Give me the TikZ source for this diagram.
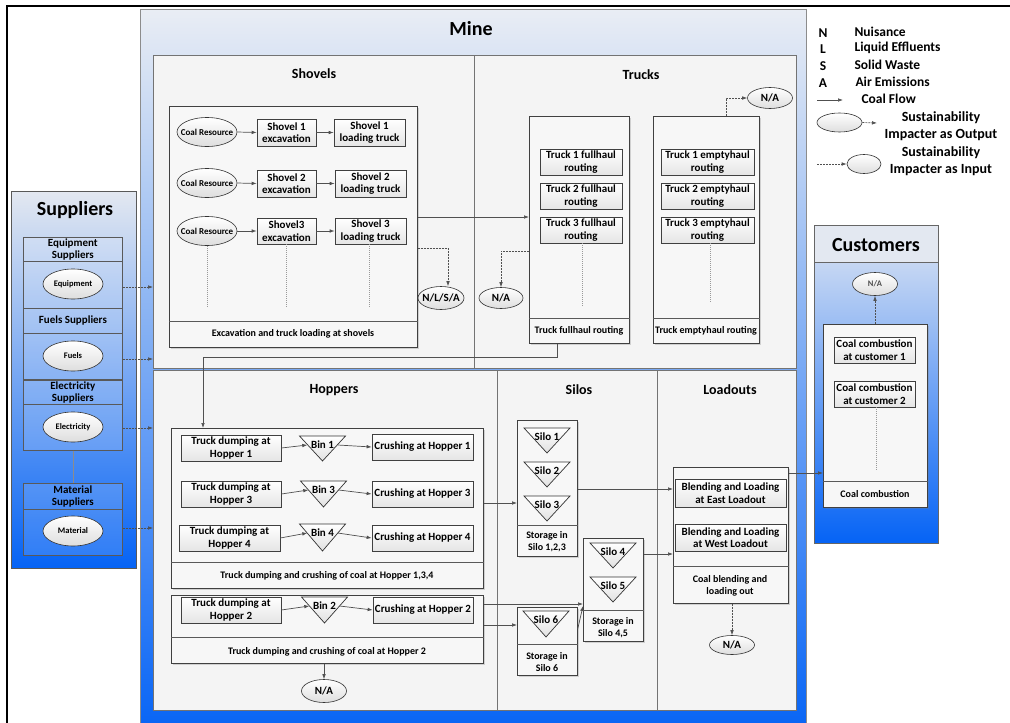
\documentclass[tikz,border=0pt]{standalone}
\usepackage{fontspec}
\setmainfont{Carlito}
\usetikzlibrary{arrows.meta,shadows,shapes.geometric}

\definecolor{linec}{HTML}{505050}
\definecolor{panelc}{HTML}{F4F4F4}
\definecolor{paleblue}{HTML}{E9EDF4}
\definecolor{deepblue}{HTML}{0563F5}
\definecolor{midblue}{HTML}{6B9DEF}
\definecolor{headc}{HTML}{E3E8F1}
\definecolor{custtop}{HTML}{C6D7F3}

% text centred in an oval without widening it
\newcommand\ovt[1]{\makebox[0pt]{#1}}
% inverted triangle (bin or silo) with a named label node near its top edge
\newcommand\vtri[5]{%
  \path[tribody] ({#2-23},#3) -- ({#2+23},#3) -- (#2,#4) -- cycle;
  \node[trilabel] (#1) at (#2,{#3+9}) {#5};}

\begin{document}
\begin{tikzpicture}[x=1pt,y=-1pt,
  every node/.style={font=\bfseries},
  f20/.style={font=\fontsize{20}{22}\selectfont\bfseries},
  f14/.style={font=\fontsize{14}{16}\selectfont\bfseries},
  f13/.style={font=\fontsize{14}{17}\selectfont\bfseries},
  f12/.style={font=\fontsize{13.5}{15}\selectfont\bfseries},
  f11/.style={font=\fontsize{11}{12.5}\selectfont\bfseries},
  f10/.style={font=\fontsize{10}{12}\selectfont\bfseries},
  f9/.style={font=\fontsize{9}{10}\selectfont\bfseries},
  f8/.style={font=\fontsize{8.5}{10}\selectfont\bfseries},
  area/.style={draw=black!55, line width=0.7pt, anchor=north west, inner sep=0pt},
  panel/.style={area, fill=panelc},
  cont/.style={area, draw=black!75, fill=white!97!black,
    drop shadow={shadow xshift=1.2pt, shadow yshift=-1.2pt, opacity=0.3}},
  box/.style={draw=black!75, line width=0.7pt, top color=white, bottom color=black!10,
    inner sep=1pt, align=center, f11,
    drop shadow={shadow xshift=1pt, shadow yshift=-1pt, opacity=0.3}},
  oval/.style={ellipse, draw=black!80, line width=0.6pt, top color=white,
    bottom color=black!13, inner sep=0pt},
  tribody/.style={draw=black!80, line width=0.7pt, top color=white, bottom color=black!12},
  trilabel/.style={f11, inner sep=0pt, minimum width=30, minimum height=14},
  divider/.style={draw=black!65, line width=0.7pt},
  subarea/.style={area, draw=black!65, fill=white, fill opacity=0.15, text opacity=1,
    align=center, f11},
  flow/.style={draw=linec, line width=0.7pt, -{Latex[length=5pt,width=3.6pt]}},
  imp/.style={flow, dash pattern=on 2pt off 1pt},
  cont line/.style={draw=black!40, line width=0.6pt, dash pattern=on 1pt off 1pt},
]
\clip (0,0) rectangle (1010,723);
\fill[white] (0,0) rectangle (1010,723);

% outer frame
\draw[line width=2pt] (7,723) -- (7,6) -- (1010,6);

% ---------------- Mine ----------------
\node[area, draw=black!45, top color=paleblue, bottom color=deepblue,
  minimum width=666, minimum height=730] (mine) at (140,9) {};
\node[f20] (minet) at (471,29) {Mine};

\node[panel, minimum width=321, minimum height=313] (shovels) at (153,55) {};
\node[panel, minimum width=322, minimum height=313] (trucks) at (474,55) {};
\node[panel, minimum width=344, minimum height=340] (hoppers) at (153,370) {};
\node[panel, minimum width=160, minimum height=340] (silos) at (497,370) {};
\node[panel, minimum width=139, minimum height=340] (loadouts) at (657,370) {};

\node[f14] (shovelst) at (314,74) {Shovels};
\node[f14] (truckst) at (641,75) {Trucks};
\node[f14] (hopperst) at (334,390) {Hoppers};
\node[f14] (silost) at (579,390) {Silos};
\node[f14] (loadoutst) at (730,390) {Loadouts};

% shovels
\node[cont, minimum width=248, minimum height=241] (sc) at (169,106) {};
\draw[divider] (sc.west |- 0,321) -- (sc.east |- 0,321);
\node[f10] (sccap) at (293,334) {Excavation and truck loading at shovels};

\node[oval, f9, minimum width=60, minimum height=29] (cr1) at (207,132) {\ovt{Coal Resource}};
\node[oval, f9, minimum width=60, minimum height=29] (cr2) at (207,183) {\ovt{Coal Resource}};
\node[oval, f9, minimum width=60, minimum height=29] (cr3) at (207,231) {\ovt{Coal Resource}};
\node[box, minimum width=59, minimum height=27] (ex1) at (286.5,132.5) {Shovel 1\\excavation};
\node[box, minimum width=59, minimum height=27] (ex2) at (286.5,183.5) {Shovel 2\\excavation};
\node[box, minimum width=59, minimum height=26] (ex3) at (286.5,231) {Shovel3\\excavation};
\node[box, minimum width=71, minimum height=27] (ld1) at (369.5,132.5) {Shovel 1\\loading truck};
\node[box, minimum width=71, minimum height=27] (ld2) at (370.5,183.5) {Shovel 2\\loading truck};
\node[box, minimum width=71, minimum height=26] (ld3) at (370.5,231) {Shovel 3\\loading truck};
\draw[cont line] (cr3.south) -- ++(0,62);
\draw[cont line] (ex3.south) -- ++(0,63);
\draw[cont line] (ld3.south -| 369,0) -- ++(0,63);

\node[oval, f11, minimum width=46, minimum height=23] (nlsa) at (441,298) {\ovt{N/L/S/A}};

% trucks
\node[cont, minimum width=100, minimum height=227] (fh) at (529,116) {};
\draw[divider] (fh.west |- 0,318) -- (fh.east |- 0,318);
\node[f10] (fhcap) at (579,331) {Truck fullhaul routing};
\node[box, minimum width=82, minimum height=26] (t1f) at (581,162) {Truck 1 fullhaul\\routing};
\node[box, minimum width=82, minimum height=26] (t2f) at (581,196) {Truck 2 fullhaul\\routing};
\node[box, minimum width=82, minimum height=26] (t3f) at (581,230) {Truck 3 fullhaul\\routing};
\draw[cont line] (t3f.south -| 582,0) -- ++(0,64);

\node[cont, minimum width=106, minimum height=227] (eh) at (653,116) {};
\draw[divider] (eh.west |- 0,318) -- (eh.east |- 0,318);
\node[f10] (ehcap) at (706,331) {Truck emptyhaul routing};
\node[box, minimum width=93, minimum height=26] (t1e) at (707.5,162) {Truck 1 emptyhaul\\routing};
\node[box, minimum width=93, minimum height=26] (t2e) at (707.5,196) {Truck 2 emptyhaul\\routing};
\node[box, minimum width=93, minimum height=26] (t3e) at (707.5,230) {Truck 3 emptyhaul\\routing};
\draw[cont line] (t3e.south -| 710,0) -- ++(0,60);

\node[oval, f11, minimum width=45, minimum height=21] (natop) at (770,98) {\ovt{N/A}};
\node[oval, f11, minimum width=44, minimum height=21] (naleft) at (501,298) {\ovt{N/A}};

% hoppers
\node[cont, minimum width=312, minimum height=160] (hc1) at (171,428) {};
\draw[divider] (hc1.west |- 0,562) -- (hc1.east |- 0,562);
\node[f10] (hc1cap) at (327,576) {Truck dumping and crushing of coal at Hopper 1,3,4};
\node[box, minimum width=100, minimum height=26] (td1) at (231,448) {Truck dumping at\\Hopper 1};
\node[box, minimum width=100, minimum height=26] (td3) at (231,494) {Truck dumping at\\Hopper 3};
\node[box, minimum width=101, minimum height=26] (td4) at (229.5,538) {Truck dumping at\\Hopper 4};
\vtri{bin1}{322.5}{436}{461}{Bin 1}
\vtri{bin3}{323.5}{481}{507}{Bin 3}
\vtri{bin4}{322.5}{524}{551}{Bin 4}
\node[box, minimum width=101, minimum height=26] (ch1) at (422.5,447) {Crushing at Hopper 1};
\node[box, minimum width=101, minimum height=26] (ch3) at (422.5,494) {Crushing at Hopper 3};
\node[box, minimum width=101, minimum height=26] (ch4) at (422.5,538) {Crushing at Hopper 4};

\node[cont, minimum width=312, minimum height=68] (hc2) at (171,595) {};
\draw[divider] (hc2.west |- 0,637) -- (hc2.east |- 0,637);
\node[f10] (hc2cap) at (327,652) {Truck dumping and crushing of coal at Hopper 2};
\node[box, minimum width=100, minimum height=26] (td2) at (231,610) {Truck dumping at\\Hopper 2};
\vtri{bin2}{324.5}{597}{623}{Bin 2}
\node[box, minimum width=100, minimum height=26] (ch2) at (423,610) {Crushing at Hopper 2};
\node[oval, f11, minimum width=45, minimum height=23] (nabot) at (324,691) {\ovt{N/A}};

% silos
\node[cont, minimum width=60, minimum height=136] (s123) at (517,420) {};
\draw[divider] (s123.west |- 0,525) -- (s123.east |- 0,525);
\node[f10, align=center] (s123cap) at (547,542) {Storage in\\Silo 1,2,3};
\vtri{silo1}{547}{428}{453}{Silo 1}
\vtri{silo2}{547}{462}{487}{Silo 2}
\vtri{silo3}{547}{496}{521}{Silo 3}

\node[cont, minimum width=60, minimum height=103] (s45) at (583,538) {};
\draw[divider] (s45.west |- 0,610) -- (s45.east |- 0,610);
\node[f10, align=center] (s45cap) at (613,628) {Storage in\\Silo 4,5};
\vtri{silo4}{613}{543}{568}{Silo 4}
\vtri{silo5}{613}{577}{602}{Silo 5}

\node[cont, minimum width=60, minimum height=68] (s6) at (517,607) {};
\draw[divider] (s6.west |- 0,644) -- (s6.east |- 0,644);
\node[f10, align=center] (s6cap) at (547,662) {Storage in\\Silo 6};
\vtri{silo6}{546}{611}{637}{Silo 6}

% loadouts
\node[cont, minimum width=115, minimum height=136] (lo) at (673,467) {};
\draw[divider] (lo.west |- 0,566) -- (lo.east |- 0,566);
\node[f10, align=center] (locap) at (730,586) {Coal blending and\\loading out};
\node[box, minimum width=111, minimum height=28] (le) at (730.5,493) {Blending and Loading\\at East Loadout};
\node[box, minimum width=111, minimum height=27] (lw) at (730.5,537.5) {Blending and Loading\\at West Loadout};
\node[oval, f11, minimum width=45, minimum height=19] (naload) at (732,645) {\ovt{N/A}};

% ---------------- Customers ----------------
\node[area, draw=black!60, fill=headc, minimum width=124, minimum height=37] (custh) at (814,225) {};
\node[area, draw=black!60, top color=custtop, bottom color=deepblue,
  minimum width=124, minimum height=281] (custb) at (814,262) {};
\node[f20] (custt) at (876,245) {Customers};
\node[oval, f8, text=black!70, minimum width=45, minimum height=23] (nacust) at (875,284) {\ovt{N/A}};
\node[cont, minimum width=104, minimum height=183] (cc) at (823,324) {};
\draw[divider] (cc.west |- 0,481) -- (cc.east |- 0,481);
\node[f10] (cccap) at (875,494) {Coal combustion};
\node[box, minimum width=81, minimum height=26] (cu1) at (874.5,350) {Coal combustion\\at customer 1};
\node[box, minimum width=81, minimum height=26] (cu2) at (874.5,394) {Coal combustion\\at customer 2};
\draw[cont line] (cu2.south -| 876,0) -- ++(0,64);

% ---------------- Suppliers ----------------
\node[area, draw=black!65, line width=1pt, top color=headc, middle color=midblue,
  bottom color=deepblue, minimum width=125, minimum height=377] (sup) at (11,191) {};
\node[f20] (supt) at (75,210) {Suppliers};
\node[subarea, minimum width=99, minimum height=24] (eqh) at (23,237) {Equipment\\Suppliers};
\node[subarea, minimum width=99, minimum height=47] (eqb) at (23,261) {};
\node[subarea, minimum width=99, minimum height=25] (fuh) at (23,308) {Fuels Suppliers};
\node[subarea, minimum width=99, minimum height=46] (fub) at (23,333) {};
\node[subarea, minimum width=99, minimum height=24] (elh) at (23,380) {Electricity\\Suppliers};
\node[subarea, minimum width=99, minimum height=46] (elb) at (23,404) {};
\node[subarea, minimum width=99, minimum height=26] (mah) at (23,483) {Material\\Suppliers};
\node[subarea, minimum width=99, minimum height=46] (mab) at (23,509) {};
\draw[draw=black!45, line width=0.7pt] (elb.south) -- (mah.north);
\node[oval, f8, minimum width=60, minimum height=30] (eq) at (73,284) {\ovt{Equipment}};
\node[oval, f8, minimum width=60, minimum height=30] (fu) at (73,356) {\ovt{Fuels}};
\node[oval, f8, minimum width=60, minimum height=30] (el) at (73,427) {\ovt{Electricity}};
\node[oval, f8, minimum width=60, minimum height=30] (ma) at (73,531) {\ovt{Material}};

% ---------------- Legend ----------------
\node[f12] (kn) at (823,33) {N};
\node[f12, anchor=west] (wn) at (851,32) {Nuisance};
\node[f12] (kl) at (823,49) {L};
\node[f12, anchor=west] (wl) at (851,48) {Liquid Effluents};
\node[f12] (ks) at (823,66) {S};
\node[f12, anchor=west] (ws) at (851,65) {Solid Waste};
\node[f12] (ka) at (823,83) {A};
\node[f12, anchor=west] (wa) at (852,82) {Air Emissions};
\coordinate (cf0) at (817,100);
\coordinate (cf1) at (843,100);
\node[f12, anchor=west] (wcf) at (858,99) {Coal Flow};
\node[oval, minimum width=45, minimum height=19] (legout) at (839.5,122.5) {};
\coordinate (legoutend) at (877,123);
\node[f13, align=center] (legouttxt) at (941,126) {Sustainability\\Impacter as Output};
\coordinate (legin0) at (817,164);
\node[oval, minimum width=34, minimum height=19] (legin) at (864,164) {};
\node[f13, align=center] (legintxt) at (941,161) {Sustainability\\Impacter as Input};

% ---------------- connectors ----------------
\draw[flow] (cf0) -- (cf1);
\draw[imp] (legout.east) -- (legoutend);
\draw[imp] (legin0) -- (legin.west);

\draw[flow] (cr1.east) -- (ex1.west);
\draw[flow] (ex1.east) -- (ld1.west);
\draw[flow] (cr2.east) -- (ex2.west);
\draw[flow] (ex2.east) -- (ld2.west);
\draw[flow] (cr3.east) -- (ex3.west);
\draw[flow] (ex3.east) -- (ld3.west);

\draw[flow] (sc.east |- 0,217) -- (fh.west |- 0,217);
\draw[imp] (sc.east |- 0,248) -| ([xshift=7pt]nlsa.north);
\draw[imp] (fh.west |- 0,251) -| (naleft.north);
\draw[imp] (eh.north -| 726,0) |- (natop.west);
\draw[flow] (fh.south -| 557,0) -- (557,357) -- (203,357) -- (hc1.north -| 203,0);

\draw[flow] (td1.east) -- (bin1.west);
\draw[flow] (bin1.east) -- (ch1.west);
\draw[flow] (td3.east) -- (bin3.west);
\draw[flow] (bin3.east) -- (ch3.west);
\draw[flow] (td4.east) -- (bin4.west);
\draw[flow] (bin4.east) -- (ch4.west);
\draw[flow] (td2.east) -- (bin2.west);
\draw[flow] (bin2.east) -- (ch2.west);
\draw[flow] (hc2.south -| nabot.north) -- (nabot.north);

\draw[flow] (hc1.east |- 0,503) -- (s123.west |- 0,503);
\draw[flow] (hc2.east |- 0,604) -- (s45.west |- 0,604);
\draw[flow] (hc2.east |- 0,625) -- (s6.west |- 0,625);
\draw[flow] (s6.east |- 0,629) -- (s45.west |- 0,606);
\draw[flow] (s123.east |- 0,489) -- (lo.west |- 0,489);
\draw[flow] (s45.east |- 0,554) -- (lo.west |- 0,554);
\draw[imp] (lo.south -| naload.north) -- (naload.north);
\draw[flow] (lo.east |- 0,473) -- (cc.west |- 0,473);
\draw[imp] (cc.north -| nacust.south) -- (nacust.south);

\draw[imp] (eqb.east |- 0,287) -- (shovels.west |- 0,287);
\draw[imp] (fub.east |- 0,359) -- (shovels.west |- 0,359);
\draw[imp] (elb.east |- 0,428) -- (hoppers.west |- 0,428);
\draw[imp] (mab.east |- 0,528) -- (hoppers.west |- 0,528);
\end{tikzpicture}
\end{document}
